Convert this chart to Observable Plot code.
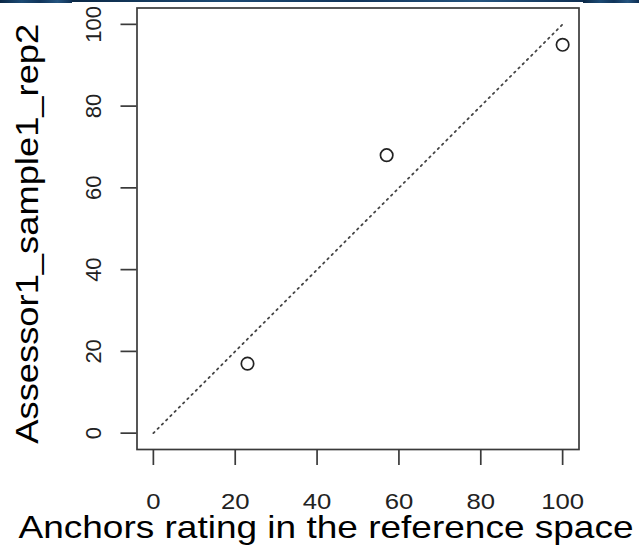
<!DOCTYPE html>
<html>
<head>
<meta charset="utf-8">
<script src="https://cdn.jsdelivr.net/npm/d3@7"></script>
<script src="https://cdn.jsdelivr.net/npm/@observablehq/plot@0.6"></script>
<style>
  html, body { margin: 0; padding: 0; background: #fff; }
  #chart { position: relative; width: 639px; height: 552px; overflow: hidden; }
  #chart svg { display: block; }
  .band { position: absolute; top: 0; z-index: 2;
          background: linear-gradient(90deg, #0b2846, #1c4a74 30%, #10345a 55%, #24547f 80%, #0d2e52); }
</style>
</head>
<body>
<div id="chart">
  <div class="band" style="left:0;width:72px;height:3px"></div>
  <div class="band" style="left:72px;width:511px;height:1.5px"></div>
  <div class="band" style="left:583px;width:56px;height:3px"></div>
</div>
<script>
// Anchor ratings: reference-space position vs. assessor score
const anchors = [23, 57, 100];
const ratings = [17, 68, 95];

// Axis ticks and titles
const xTicks = [0, 20, 40, 60, 80, 100];
const yTicks = [0, 20, 40, 60, 80, 100];
const xLabel = "Anchors rating in the reference space";
const yLabel = "Assessor1_sample1_rep2";

// Identity line y = x across the rating range
const identity = [0, 100];

const points = anchors.map((a, i) => ({a, r: ratings[i]}));
const diagonal = identity.map(v => ({a: v, r: v}));

const ink = "#3a3a3a";
const chart = Plot.plot({
  width: 639,
  height: 552,
  marginLeft: 136.5,
  marginRight: 60.5,
  marginTop: 7.5,
  marginBottom: 103,
  x: {domain: [-4, 104], label: null},
  y: {domain: [-4, 104], label: null},
  style: {background: "transparent", fontFamily: "'Liberation Sans', Arial, Helvetica, sans-serif"},
  marks: [
    Plot.line(diagonal, {x: "a", y: "r", stroke: "#444", strokeWidth: 1.8, strokeDasharray: "1.6,4.4"}),
    Plot.dot(points, {x: "a", y: "r", r: 6.2, stroke: "#222", strokeWidth: 1.7, fill: "none"}),
    Plot.frame({stroke: ink, strokeWidth: 1.7}),
    Plot.axisX(xTicks, {tickSize: 16, tickPadding: 28, fontSize: 22, stroke: ink, strokeWidth: 1.7, fill: "#222", label: null}),
    Plot.axisY(yTicks, {tickSize: 16, stroke: ink, strokeWidth: 1.7, tickFormat: () => "", label: null}),
    Plot.text(yTicks, {y: d => d, text: d => String(d), frameAnchor: "left", dx: -43.5, rotate: -90,
                       textAnchor: "middle", lineAnchor: "middle", fontSize: 22, fill: "#222"}),
    Plot.text([xLabel], {text: d => d, frameAnchor: "bottom", dx: -32, dy: 88,
                         textAnchor: "middle", lineAnchor: "bottom", fontSize: 32, fill: "#000"}),
    Plot.text([yLabel], {text: d => d, frameAnchor: "left", dx: -99.5, dy: 5, rotate: -90,
                         textAnchor: "middle", lineAnchor: "bottom", fontSize: 31, fill: "#000"})
  ]
});

// Widen the titles and x tick labels to the lettering width used by this figure
chart.querySelectorAll("text").forEach(t => {
  const s = t.textContent;
  if (s === xLabel) { t.setAttribute("textLength", 615); t.setAttribute("lengthAdjust", "spacingAndGlyphs"); }
  if (s === yLabel) { t.setAttribute("textLength", 420); t.setAttribute("lengthAdjust", "spacingAndGlyphs"); }
});
chart.querySelectorAll('g[aria-label="x-axis tick label"] text').forEach(t => {
  t.setAttribute("textLength", t.textContent.length * 14.3);
  t.setAttribute("lengthAdjust", "spacingAndGlyphs");
});

document.getElementById("chart").appendChild(chart);
</script>
</body>
</html>
